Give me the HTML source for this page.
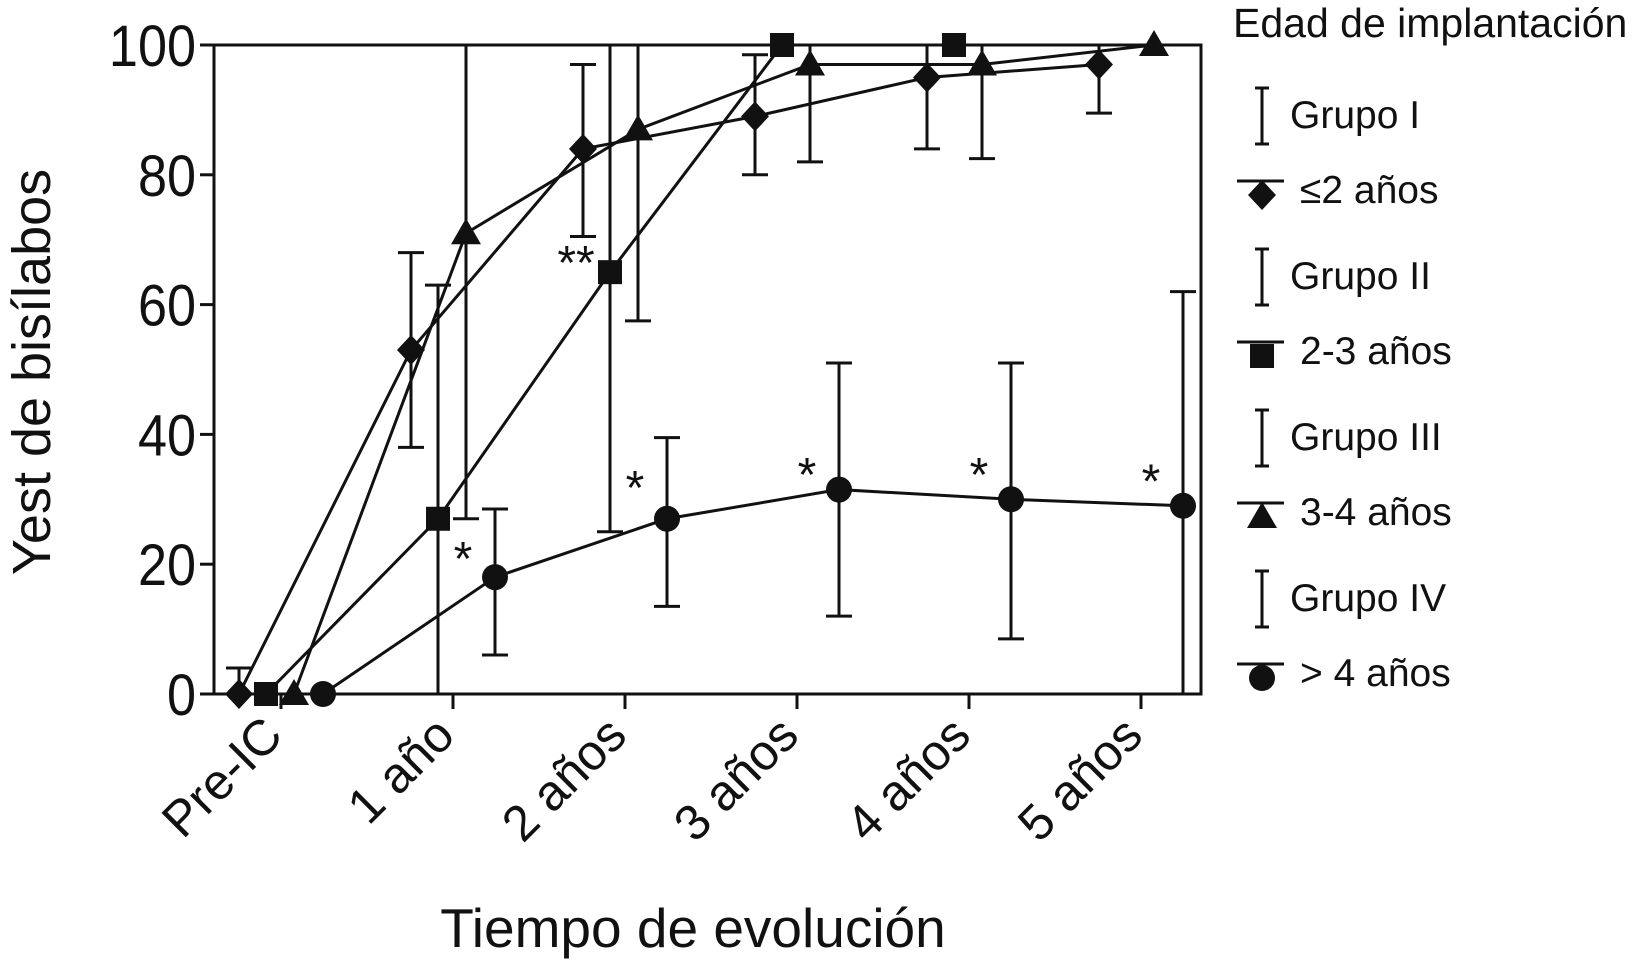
<!DOCTYPE html>
<html><head><meta charset="utf-8"><style>
html,body{margin:0;padding:0;background:#fff;}
svg{display:block;font-family:"Liberation Sans",sans-serif;}
</style></head><body>
<svg id="chart" width="1638" height="966" viewBox="0 0 1638 966" xmlns="http://www.w3.org/2000/svg">
<g id="plot"></g>
<g id="legend"></g>
</svg>
<script>
const categories = ["Pre-IC","1 año","2 años","3 años","4 años","5 años"];
const yTicks = [0,20,40,60,80,100];
const g1Values = [0,53,84,89,95,97];
const g1Low = [null,38,70.5,80,84,89.5];
const g1High = [4,68,97,98.5,100,100];
const g2Values = [0,27,65,100,100,null];
const g2Low = [null,0,25,null,null,null];
const g2High = [null,63,100,null,null,null];
const g3Values = [0,71,87,97,97,100];
const g3Low = [null,27,57.5,82,82.5,null];
const g3High = [null,100,100,100,100,null];
const g4Values = [0,18,27,31.5,30,29];
const g4Low = [null,6,13.5,12,8.5,0];
const g4High = [null,28.5,39.5,51,51,62];
const groupNames = ["Grupo I","Grupo II","Grupo III","Grupo IV"];
const groupLabels = ["\u22642 años","2-3 años","3-4 años","> 4 años"];
const annIdx = [1,2,3,4,5];
const annVal = [22,33,35,35,34];
const annText = ["*","*","*","*","*"];

const NS="http://www.w3.org/2000/svg";
const L=214,R=1201,T=45,B=694;
const x=i=>281+172*i;
const y=v=>B-(v/100)*(B-T);
function mk(tag,attrs,parent){const e=document.createElementNS(NS,tag);for(const k in attrs)e.setAttribute(k,attrs[k]);parent.appendChild(e);return e;}
const plot=document.getElementById('plot');
const leg=document.getElementById('legend');
const st={stroke:"#111","stroke-width":3,fill:"none"};

let fr=mk('rect',{x:L,y:T,width:R-L,height:B-T,stroke:"#111","stroke-width":3,fill:"none"},plot);


yTicks.forEach(v=>{
  let t=mk('line',{x1:L-14,x2:L,y1:y(v),y2:y(v),...st},plot);
  
  
  let tx=mk('text',{x:0,y:0,"text-anchor":"end","font-size":58,fill:"#111",transform:`translate(${L-18} ${y(v)+21}) scale(0.9 1)`},plot);
  tx.textContent=v;
  
  
});
categories.forEach((c,i)=>{
  let t=mk('line',{x1:x(i),x2:x(i),y1:B,y2:B+15,...st},plot);
  
  
  let tx=mk('text',{x:x(i)+4,y:B+44,"text-anchor":"end","font-size":50,fill:"#111",transform:`rotate(-45 ${x(i)+4} ${B+44})`},plot);
  tx.textContent=c;
  
  
});
let yt=mk('text',{x:0,y:0,"text-anchor":"middle","font-size":54,fill:"#111",transform:"translate(50 372) rotate(-90)"},plot);
yt.textContent="Yest de bisílabos";


let xt=mk('text',{x:693,y:947,"text-anchor":"middle","font-size":55,fill:"#111"},plot);
xt.textContent="Tiempo de evolución";



function marker(kind,cx,cy,parent){
  let e;
  if(kind==='diamond')e=mk('polygon',{points:`${cx},${cy-15} ${cx+14},${cy} ${cx},${cy+15} ${cx-14},${cy}`,fill:"#111"},parent);
  else if(kind==='square')e=mk('rect',{x:cx-12,y:cy-12,width:24,height:24,fill:"#111"},parent);
  else if(kind==='triangle')e=mk('polygon',{points:`${cx},${cy-15} ${cx+15},${cy+11} ${cx-15},${cy+11}`,fill:"#111"},parent);
  else e=mk('circle',{cx:cx,cy:cy,r:13,fill:"#111"},parent);
  return e;
}
const series=[
 {vals:g1Values,lo:g1Low,hi:g1High,off:-42,kind:'diamond',name:'grupo-i'},
 {vals:g2Values,lo:g2Low,hi:g2High,off:-15,kind:'square',name:'grupo-ii'},
 {vals:g3Values,lo:g3Low,hi:g3High,off:13,kind:'triangle',name:'grupo-iii'},
 {vals:g4Values,lo:g4Low,hi:g4High,off:42,kind:'circle',name:'grupo-iv'}
];
series.forEach(s=>{
  const g=mk('g',{},plot);
  
  
  s.vals.forEach((v,i)=>{
    if(v===null)return;
    const cx=x(i)+s.off;
    if(s.hi[i]!==null){
      const top=y(s.hi[i]),bot=y(s.lo[i]===null?v:s.lo[i]);
      let el=mk('path',{d:`M${cx},${bot}V${top}M${cx-13},${top}H${cx+13}`+(s.lo[i]!==null?`M${cx-13},${bot}H${cx+13}`:''),...st},g);
      
      
    }
  });
  let d='';
  s.vals.forEach((v,i)=>{if(v===null)return;d+=(d?'L':'M')+(x(i)+s.off)+','+y(v);});
  let ln=mk('path',{d:d,...st},g);
  
  
  s.vals.forEach((v,i)=>{
    if(v===null)return;
    let m=marker(s.kind,x(i)+s.off,y(v),g);
    
    
  });
});
annIdx.forEach((i,k)=>{
  let a=mk('text',{x:x(i)+10,y:y(annVal[k])+24,"text-anchor":"middle","font-size":48,fill:"#111"},plot);
  a.textContent=annText[k];
  
  
});
let a2=mk('text',{x:576,y:279,"text-anchor":"middle","font-size":48,fill:"#111"},plot);
a2.textContent="**";



let lt=mk('text',{x:1233,y:37,"font-size":41,fill:"#111"},leg);
lt.textContent="Edad de implantación";


const kinds=['diamond','square','triangle','circle'];
groupNames.forEach((n,k)=>{
  const oy=k*161;
  const ge=mk('g',{},leg);
  
  
  let eb=mk('path',{d:`M1262,${88+oy}V${144+oy}M1255,${88+oy}H1269M1255,${144+oy}H1269`,...st},ge);
  
  
  let t=mk('text',{x:1290,y:128+oy,"font-size":39,fill:"#111"},ge);
  t.textContent=n;
  
  
  let hl=mk('line',{x1:1237,x2:1284,y1:181+oy,y2:181+oy,...st},ge);
  
  
  let m=marker(kinds[k],1262,195+oy,ge);
  
  
  let t2=mk('text',{x:1300,y:203+oy,"font-size":39,fill:"#111"},ge);
  t2.textContent=groupLabels[k];
  
  
});
</script>
</body></html>
